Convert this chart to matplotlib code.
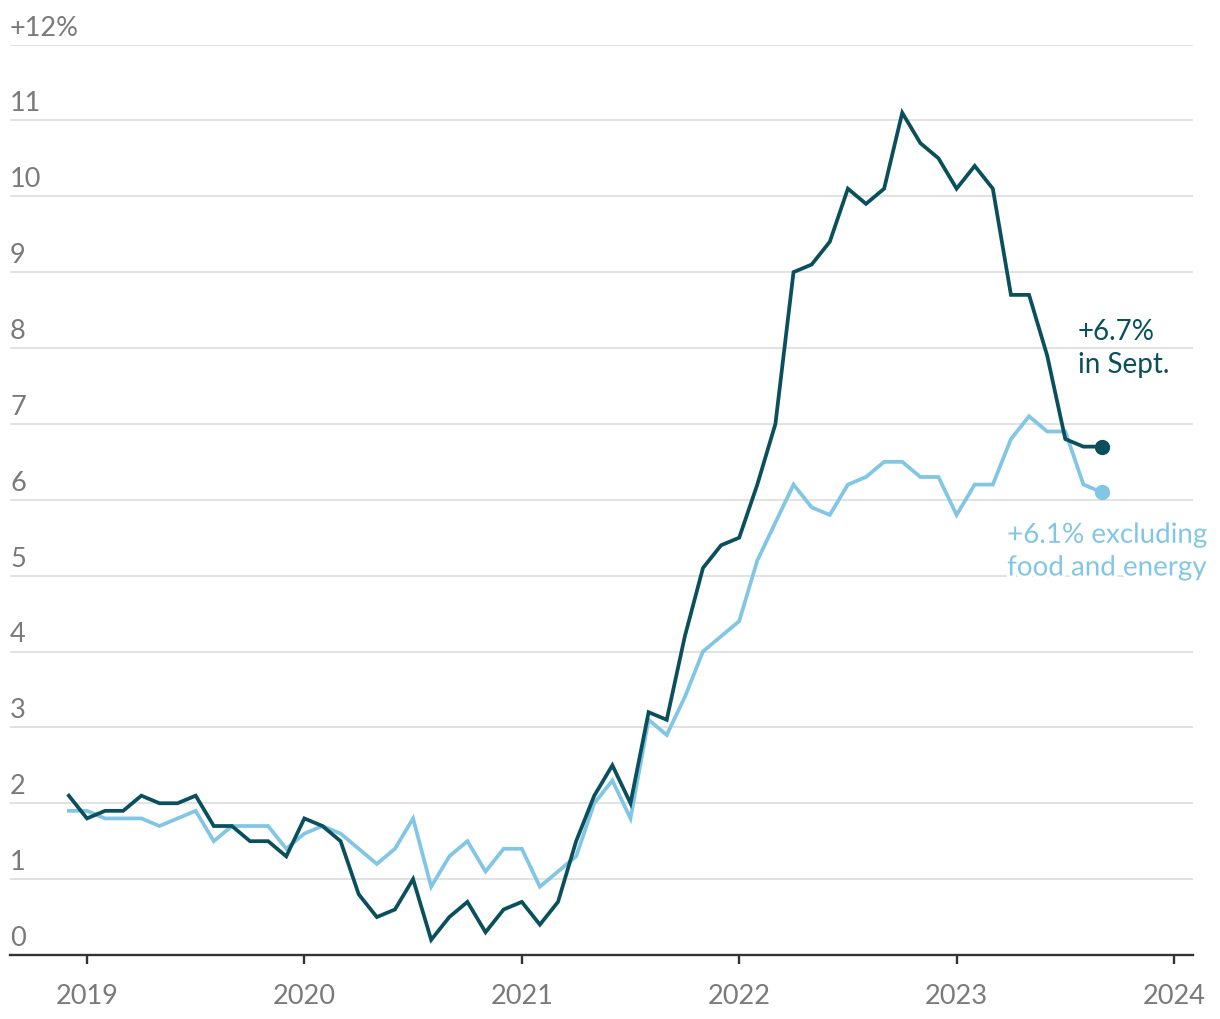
import numpy as np
import matplotlib
matplotlib.use("Agg")
import matplotlib.pyplot as plt
import matplotlib.patheffects as pe
from matplotlib.transforms import offset_copy

# UK consumer prices, change from a year earlier, Dec 2018 - Sept 2023
start_year, start_month = 2018, 12
cpi = [2.1,
       1.8, 1.9, 1.9, 2.1, 2.0, 2.0, 2.1, 1.7, 1.7, 1.5, 1.5, 1.3,
       1.8, 1.7, 1.5, 0.8, 0.5, 0.6, 1.0, 0.2, 0.5, 0.7, 0.3, 0.6,
       0.7, 0.4, 0.7, 1.5, 2.1, 2.5, 2.0, 3.2, 3.1, 4.2, 5.1, 5.4,
       5.5, 6.2, 7.0, 9.0, 9.1, 9.4, 10.1, 9.9, 10.1, 11.1, 10.7, 10.5,
       10.1, 10.4, 10.1, 8.7, 8.7, 7.9, 6.8, 6.7, 6.7]
core = [1.9,
        1.9, 1.8, 1.8, 1.8, 1.7, 1.8, 1.9, 1.5, 1.7, 1.7, 1.7, 1.4,
        1.6, 1.7, 1.6, 1.4, 1.2, 1.4, 1.8, 0.9, 1.3, 1.5, 1.1, 1.4,
        1.4, 0.9, 1.1, 1.3, 2.0, 2.3, 1.8, 3.1, 2.9, 3.4, 4.0, 4.2,
        4.4, 5.2, 5.7, 6.2, 5.9, 5.8, 6.2, 6.3, 6.5, 6.5, 6.3, 6.3,
        5.8, 6.2, 6.2, 6.8, 7.1, 6.9, 6.9, 6.2, 6.1]
y_ticks = list(range(0, 13))
y_labels = ["0"] + [str(v) for v in range(1, 12)] + ["+12%"]
years = [2019, 2020, 2021, 2022, 2023, 2024]

dark = "#0a4f5c"
light = "#82c6e6"
gray = "#7a7a7a"

plt.rcParams['font.family'] = ['Lato', 'DejaVu Sans']

n = len(cpi)
x = start_year + (start_month - 1 + np.arange(n)) / 12.0

fig = plt.figure(figsize=(12.2, 10.2), dpi=100)
ax = fig.add_axes([10 / 1220, 1 - 956 / 1020, 1182.7 / 1220, (956 - 45.5) / 1020])
ax.set_xlim(2018.646, 2024.086)
ax.set_ylim(0, 12)

for s in ["top", "right", "left"]:
    ax.spines[s].set_visible(False)
ax.spines["bottom"].set_color("#333333")
ax.spines["bottom"].set_linewidth(1.7)
ax.spines["bottom"].set_zorder(5)

for v in y_ticks[1:]:
    ax.axhline(v, color="#e2e2e2", lw=1.4, zorder=0)

ax.set_yticks([])
label_tr = offset_copy(ax.get_yaxis_transform(), fig=fig, x=0, y=7.2, units="points")
for v, lab in zip(y_ticks, y_labels):
    ax.text(0, v, lab, transform=label_tr, ha="left", va="baseline",
            fontsize=19.5, color=gray)

ax.set_xticks(years)
ax.set_xticklabels([str(yr) for yr in years])
ax.tick_params(axis="x", length=6.5, width=1.7, color="#333333", pad=14,
               labelsize=19.5, labelcolor=gray)

ax.plot(x, core, color=light, lw=2.7, zorder=3, solid_joinstyle="miter")
ax.plot(x, cpi, color=dark, lw=2.7, zorder=4, solid_joinstyle="miter")
ax.plot(x[-1], core[-1], "o", color=light, ms=10, zorder=6)
ax.plot(x[-1], cpi[-1], "o", color=dark, ms=10, zorder=6)

ax.annotate("+%.1f%%\nin Sept." % cpi[-1], xy=(x[-1], cpi[-1]), xytext=(-17, 54),
            textcoords="offset points", ha="left", va="baseline",
            fontsize=20, color=dark, linespacing=1.32)
ax.annotate("+%.1f%% excluding\nfood and energy" % core[-1], xy=(x[-1], core[-1]),
            xytext=(-68, -60), textcoords="offset points", ha="left", va="baseline",
            fontsize=20, color=light, linespacing=1.32, zorder=7,
            path_effects=[pe.withStroke(linewidth=5, foreground="white")])

fig.savefig("out.png", dpi=100)
